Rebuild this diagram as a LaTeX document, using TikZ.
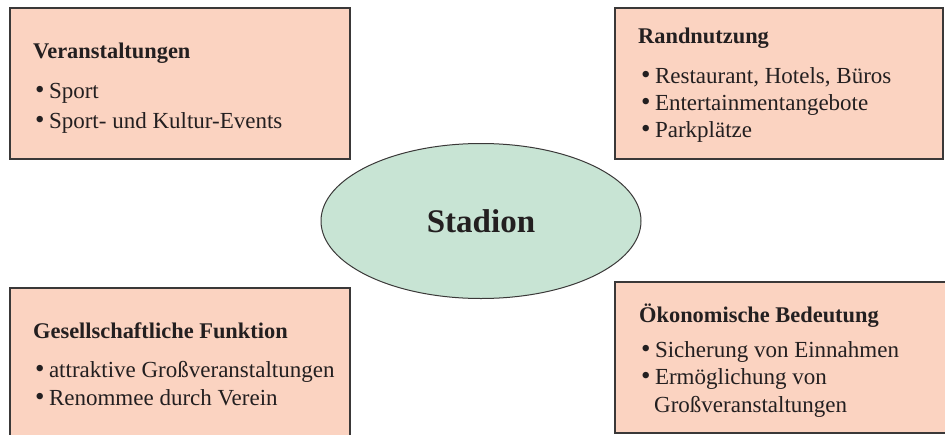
\documentclass[tikz,border=0pt]{standalone}
\usepackage{fontspec}
\setmainfont{Liberation Serif}
\usetikzlibrary{shapes.geometric}

\definecolor{panelfill}{RGB}{251,211,193}
\definecolor{hubfill}{RGB}{200,228,212}
\definecolor{edgegray}{RGB}{58,56,56}
\definecolor{ink}{RGB}{35,31,32}

% list bullet, a little heavier than the text font's own
\newcommand\itemdot{\makebox[13.8pt][l]{\fontsize{27}{27}\selectfont•}}

\tikzset{
  panel/.style={draw=edgegray, line width=1.2pt, fill=panelfill, rectangle,
    anchor=north west, inner sep=0pt, outer sep=0pt},
  hub/.style={draw=edgegray, line width=1pt, fill=hubfill, ellipse,
    inner sep=0pt, text=ink, font=\fontsize{33}{36}\selectfont\bfseries},
  line/.style={anchor=base west, inner sep=0pt, text=ink,
    font=\fontsize{23}{27}\selectfont},
  headline/.style={line, font=\fontsize{22.4}{27}\selectfont\bfseries}
}

\begin{document}
\begin{tikzpicture}[x=1pt, y=-1pt]
  \useasboundingbox (0,0) rectangle (945,434);
  \clip (0,0) rectangle (945,434);
  \fill[white] (0,0) rectangle (945,434);

  % four information panels
  \node[panel, minimum width=340pt, minimum height=151pt] (events) at (10,8) {};
  \node[panel, minimum width=328pt, minimum height=151pt] (edge) at (615,8) {};
  \node[panel, minimum width=340pt, minimum height=160pt] (society) at (10,288) {};
  \node[panel, minimum width=340pt, minimum height=151pt] (economy) at (615,282) {};

  % central stadium
  \node[hub, minimum width=320pt, minimum height=155pt] (stadion) at (481,221) {Stadion};

  % Veranstaltungen
  \node[headline] (ev-h) at (33,58) {Veranstaltungen};
  \node[line] (ev-1) at (35,98) {\itemdot Sport};
  \node[line] (ev-2) at (35,128) {\itemdot Sport- und Kultur-Events};

  % Randnutzung
  \node[headline] (rn-h) at (638,43) {Randnutzung};
  \node[line] (rn-1) at (641,83) {\itemdot Restaurant, Hotels, Büros};
  \node[line] (rn-2) at (641,110) {\itemdot Entertainmentangebote};
  \node[line] (rn-3) at (641,137) {\itemdot Parkplätze};

  % Gesellschaftliche Funktion
  \node[headline] (gf-h) at (33,338) {Gesellschaftliche Funktion};
  \node[line] (gf-1) at (35,377) {\itemdot attraktive Großveranstaltungen};
  \node[line] (gf-2) at (35,405) {\itemdot Renommee durch Verein};

  % Oekonomische Bedeutung
  \node[headline] (ob-h) at (639,322) {Ökonomische Bedeutung};
  \node[line] (ob-1) at (641,357) {\itemdot Sicherung von Einnahmen};
  \node[line] (ob-2) at (641,384) {\itemdot Ermöglichung von};
  \node[line] (ob-3) at (654,412) {Großveranstaltungen};
\end{tikzpicture}
\end{document}
